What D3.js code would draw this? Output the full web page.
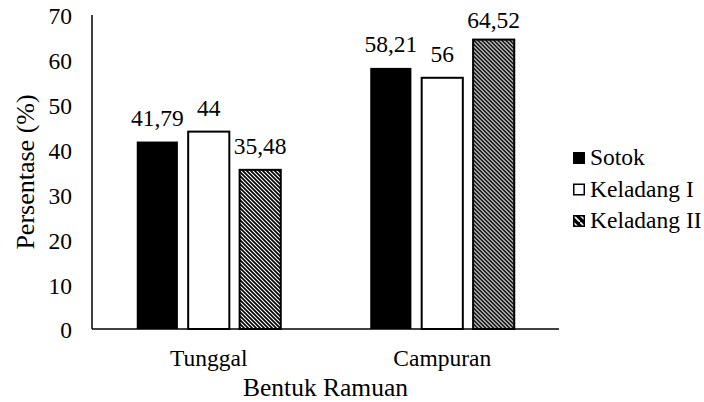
<!DOCTYPE html>
<html>
<head>
<meta charset="utf-8">
<script src="https://cdn.jsdelivr.net/npm/d3@7"></script>
<style>
  html, body { margin: 0; padding: 0; background: #fff; }
  svg text { font-family: "Liberation Serif", "Times New Roman", Times, "DejaVu Serif", serif !important; }
</style>
</head>
<body>
<svg id="chart" width="704" height="402"></svg>
<script>
const categories = ["Tunggal", "Campuran"];
const series = ["Sotok", "Keladang I", "Keladang II"];
const sotokValues = [41.79, 58.21];
const keladang1Values = [44, 56];
const keladang2Values = [35.48, 64.52];
const valueLabels = [["41,79", "58,21"], ["44", "56"], ["35,48", "64,52"]];
const yTicks = [0, 10, 20, 30, 40, 50, 60, 70];
const yTitle = "Persentase (%)";
const xTitle = "Bentuk Ramuan";

const seriesValues = [sotokValues, keladang1Values, keladang2Values];

const svg = d3.select("#chart");
const defs = svg.append("defs");
const pat = defs.append("pattern")
  .attr("id", "hatch")
  .attr("patternUnits", "userSpaceOnUse")
  .attr("width", 4).attr("height", 4);
pat.append("rect").attr("width", 4).attr("height", 4).attr("fill", "#fff");
pat.append("path")
  .attr("d", "M-1,-1 L5,5 M-1,3 L1,5 M3,-1 L5,1")
  .attr("stroke", "#000").attr("stroke-width", 1.7);

const patL = defs.append("pattern")
  .attr("id", "hatchLegend")
  .attr("patternUnits", "userSpaceOnUse")
  .attr("width", 7).attr("height", 7);
patL.append("rect").attr("width", 7).attr("height", 7).attr("fill", "#000");
patL.append("path")
  .attr("d", "M-1,-1 L8,8")
  .attr("stroke", "#fff").attr("stroke-width", 1.6);

const fills = ["#000", "#fff", "url(#hatch)"];
const legendFills = ["#000", "#fff", "url(#hatchLegend)"];

const plotLeft = 92, plotRight = 559, plotTop = 15, plotBottom = 329;

const y = d3.scaleLinear().domain([0, 70]).range([plotBottom, plotTop]);
const x0 = d3.scaleBand().domain(categories).range([plotLeft, plotRight]).padding(0);
const x1 = d3.scaleBand().domain(series).range([0, x0.bandwidth()])
  .paddingInner(0.2).paddingOuter(0.87);

// y axis tick labels
const yAxis = d3.axisLeft(y).tickValues(yTicks).tickSize(0).tickPadding(20);
const gy = svg.append("g").attr("transform", `translate(${plotLeft},0)`).call(yAxis);
gy.select(".domain").remove();
gy.selectAll("text")
  .attr("font-size", 23.5)
  .attr("fill", "#000")
  .attr("dy", "0.38em");

// bars
const rows = (c, ci) => series.map((s, si) => ({ s, si, v: seriesValues[si][ci], label: valueLabels[si][ci] }));
const groups = svg.append("g").selectAll("g")
  .data(categories)
  .join("g")
  .attr("transform", d => `translate(${x0(d)},0)`);

groups.selectAll("rect")
  .data(rows)
  .join("rect")
  .attr("x", d => x1(d.s))
  .attr("y", d => y(d.v))
  .attr("width", x1.bandwidth())
  .attr("height", d => y(0) - y(d.v))
  .attr("fill", d => fills[d.si])
  .attr("stroke", "#000")
  .attr("stroke-width", d => d.si === 0 ? 0 : 2);

groups.selectAll("text.val")
  .data(rows)
  .join("text")
  .attr("class", "val")
  .attr("x", d => x1(d.s) + x1.bandwidth() / 2)
  .attr("y", d => Math.max(y(d.v) - 16, 28))
  .attr("text-anchor", "middle")
  .attr("font-size", 23.5)
  .attr("fill", "#000")
  .text(d => d.label);

// x axis
const xAxis = d3.axisBottom(x0).tickSize(0).tickPadding(20);
const gx = svg.append("g").attr("transform", `translate(0,${plotBottom})`).call(xAxis);
gx.select(".domain").remove();
gx.selectAll("text")
  .attr("font-size", 23.5)
  .attr("fill", "#000")
  .attr("dy", "0.71em");

// axis lines
svg.append("line").attr("x1", plotLeft).attr("x2", plotLeft).attr("y1", plotTop).attr("y2", plotBottom)
  .attr("stroke", "#000").attr("stroke-width", 1.5);
svg.append("line").attr("x1", plotLeft).attr("x2", plotRight).attr("y1", plotBottom).attr("y2", plotBottom)
  .attr("stroke", "#000").attr("stroke-width", 1.5);

// titles
svg.append("text")
  .attr("transform", `translate(34,${(plotTop + plotBottom) / 2}) rotate(-90)`)
  .attr("text-anchor", "middle")
  .attr("font-size", 26)
  .attr("fill", "#000")
  .text(yTitle);

svg.append("text")
  .attr("x", (plotLeft + plotRight) / 2)
  .attr("y", 396)
  .attr("text-anchor", "middle")
  .attr("font-size", 25.5)
  .attr("fill", "#000")
  .text(xTitle);

// legend
const legend = svg.append("g").attr("transform", "translate(573,152)");
const items = legend.selectAll("g").data(series).join("g")
  .attr("transform", (d, i) => `translate(0,${i * 31.5})`);
items.append("rect")
  .attr("x", 0.75).attr("y", 0.75)
  .attr("width", 10.5).attr("height", 10.5)
  .attr("fill", (d, i) => legendFills[i])
  .attr("stroke", "#000")
  .attr("stroke-width", 1.5);
items.append("text")
  .attr("x", 17)
  .attr("y", 13)
  .attr("font-size", 23.5)
  .attr("fill", "#000")
  .text(d => d);
</script>
</body>
</html>
